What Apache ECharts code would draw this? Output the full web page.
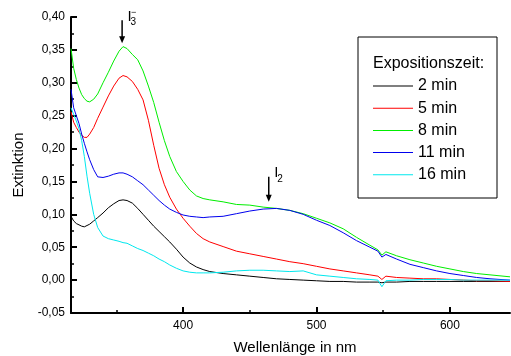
<!DOCTYPE html>
<html><head><meta charset="utf-8">
<script src="https://cdn.jsdelivr.net/npm/echarts@6/dist/echarts.min.js"></script>
<style>html,body{margin:0;padding:0;background:#fff}#c{width:511px;height:356px}</style>
</head><body><div id="c"></div>
<script>
// ---- data ----
const wavelengths = [316,318,320,322,324,326,328,330,333,336,340,344,348,352,355,358,362,366,370,374,378,382,386,390,395,400,405,410,415,420,430,440,450,460,470,480,490,500,510,520,530,540,546,549,552,560,570,580,590,600,610,620,630,645];
const ext2min  = [0.097,0.090,0.086,0.084,0.082,0.081,0.083,0.085,0.090,0.095,0.102,0.110,0.116,0.121,0.122,0.121,0.117,0.109,0.100,0.091,0.082,0.074,0.066,0.058,0.047,0.035,0.026,0.020,0.016,0.013,0.010,0.008,0.006,0.004,0.002,0.001,0.000,-0.001,-0.002,-0.002,-0.003,-0.003,-0.003,-0.004,-0.003,-0.003,-0.002,-0.002,-0.002,-0.002,-0.002,-0.002,-0.002,-0.002];
const ext5min  = [0.256,0.240,0.232,0.225,0.220,0.217,0.217,0.222,0.232,0.246,0.263,0.280,0.295,0.307,0.311,0.309,0.302,0.290,0.274,0.243,0.205,0.170,0.145,0.126,0.108,0.094,0.082,0.071,0.063,0.058,0.051,0.044,0.040,0.036,0.032,0.028,0.025,0.021,0.017,0.014,0.011,0.008,0.006,0.001,0.006,0.004,0.003,0.002,0.002,0.001,0.000,-0.001,-0.001,-0.002];
const ext8min  = [0.352,0.322,0.305,0.292,0.282,0.276,0.272,0.271,0.275,0.283,0.300,0.316,0.333,0.348,0.355,0.352,0.343,0.335,0.318,0.295,0.270,0.240,0.212,0.188,0.165,0.150,0.137,0.128,0.124,0.122,0.119,0.115,0.114,0.111,0.109,0.106,0.101,0.094,0.087,0.078,0.065,0.053,0.046,0.038,0.043,0.037,0.031,0.026,0.021,0.017,0.013,0.010,0.008,0.005];
const ext11min = [0.290,0.262,0.250,0.238,0.222,0.208,0.195,0.183,0.168,0.157,0.156,0.158,0.161,0.163,0.163,0.161,0.157,0.151,0.145,0.137,0.129,0.121,0.114,0.108,0.103,0.099,0.097,0.096,0.095,0.096,0.097,0.101,0.105,0.108,0.109,0.106,0.100,0.091,0.083,0.072,0.060,0.050,0.044,0.035,0.039,0.032,0.024,0.019,0.014,0.010,0.007,0.004,0.002,0.000];
const ext16min = [0.262,0.252,0.242,0.230,0.212,0.188,0.158,0.132,0.100,0.080,0.067,0.063,0.061,0.059,0.057,0.056,0.052,0.048,0.045,0.041,0.037,0.032,0.028,0.023,0.018,0.014,0.012,0.011,0.011,0.011,0.012,0.014,0.015,0.015,0.014,0.013,0.014,0.008,0.006,0.004,0.002,0.001,0.000,-0.010,-0.001,0.000,0.000,0.001,0.001,0.001,0.000,0.000,0.000,0.000];
const seriesNames = ['2 min','5 min','8 min','11 min','16 min'];
const seriesValues = [ext2min, ext5min, ext8min, ext11min, ext16min];
const seriesColors = ['#000000','#ff0000','#00ee00','#0000ee','#00e8ee'];
const xMajorTicks = [400,500,600];
const xMinorTicks = [350,450,550];
const legendTitle = 'Expositionszeit:';
const annotations = [
  {x:354.3, yTop:0.395, yBot:0.360, main:'I', sub:'3', sup:'\u2212'},
  {x:464.2, yTop:0.157, yBot:0.119, main:'I', sub:'2', sup:''}
];

const FONT = 'Liberation Sans, Arial, sans-serif';
const chart = echarts.init(document.getElementById('c'), null, {renderer:'canvas'});
const axisLineStyle = {color:'#000', width:2};
chart.setOption({
  animation:false,
  backgroundColor:'#fff',
  grid:{left:71, right:1, top:17, bottom:43, containLabel:false, outerBoundsMode:'none'},
  xAxis:[{
    type:'value', min:316, max:645, position:'bottom',
    axisLine:{show:true, onZero:false, lineStyle:axisLineStyle},
    axisTick:{show:true, inside:true, length:6, lineStyle:{color:'#000', width:2}, customValues:xMajorTicks},
    axisLabel:{customValues:xMajorTicks, fontSize:12, color:'#000', margin:7, fontFamily:FONT},
    splitLine:{show:false},
    name:'Wellenlänge in nm', nameLocation:'middle', nameGap:27,
    nameTextStyle:{fontSize:15, color:'#000', fontFamily:FONT, padding:[0,0,0,9]}
  },{
    type:'value', min:316, max:645, position:'bottom',
    axisLine:{show:false, onZero:false},
    axisTick:{show:true, inside:true, length:3, lineStyle:{color:'#000', width:1.5}, customValues:xMinorTicks},
    axisLabel:{show:false}, splitLine:{show:false}
  }],
  yAxis:{
    type:'value', min:-0.05, max:0.40, interval:0.05,
    axisLine:{show:true, onZero:false, lineStyle:axisLineStyle},
    axisTick:{show:true, inside:true, length:6, lineStyle:{color:'#000', width:2}},
    minorTick:{show:true, splitNumber:2, length:3, lineStyle:{color:'#000', width:1.5}},
    axisLabel:{fontSize:12, color:'#000', margin:6, fontFamily:FONT,
      formatter:v=>v.toFixed(2).replace('.',',')},
    splitLine:{show:false},
    name:'Extinktion', nameLocation:'middle', nameGap:45, nameRotate:90,
    nameTextStyle:{fontSize:15, color:'#000', fontFamily:FONT}
  },
  legend:{
    orient:'vertical', left:373, top:78, padding:0, itemWidth:40, itemHeight:1, itemGap:6.2,
    icon:'rect',
    textStyle:{fontSize:16, color:'#000', fontFamily:FONT},
    data:seriesNames
  },
  series:seriesNames.map((n,i)=>({
    name:n, type:'line', symbol:'none', showSymbol:false,
    lineStyle:{width:1, color:seriesColors[i]}, itemStyle:{color:seriesColors[i]},
    data:wavelengths.map((w,j)=>[w, seriesValues[i][j]])
  }))
});

// legend box, title and the I3-/I2 annotations (positions from data coords)
const g = [
  {type:'rect', shape:{x:358, y:37, width:139, height:161}, style:{fill:'none', stroke:'#000', lineWidth:1}, z:10},
  {type:'text', x:373, y:64, style:{text:legendTitle, font:'16px '+FONT, fill:'#000', textVerticalAlign:'middle'}, z:10}
];
annotations.forEach(a=>{
  const p1 = chart.convertToPixel({gridIndex:0}, [a.x, a.yTop]);
  const p2 = chart.convertToPixel({gridIndex:0}, [a.x, a.yBot]);
  g.push({type:'line', shape:{x1:p1[0], y1:p1[1], x2:p2[0], y2:p2[1]-5}, style:{stroke:'#000', lineWidth:1.5}, z:10});
  g.push({type:'polygon', shape:{points:[[p2[0]-3,p2[1]-7],[p2[0]+3,p2[1]-7],[p2[0],p2[1]]]}, style:{fill:'#000'}, z:10});
  const tx = p1[0]+5.5, ty = p1[1]-11;
  g.push({type:'text', x:tx, y:ty, style:{text:a.main, font:'15px '+FONT, fill:'#000', textVerticalAlign:'top'}, z:10});
  g.push({type:'text', x:tx+3, y:ty+8, style:{text:a.sub, font:'10px '+FONT, fill:'#000', textVerticalAlign:'top'}, z:10});
  if (a.sup) g.push({type:'text', x:tx+3.5, y:ty-1, style:{text:a.sup, font:'9px '+FONT, fill:'#000', textVerticalAlign:'top'}, z:11});
});
chart.setOption({graphic:g});
</script>
</body></html>
